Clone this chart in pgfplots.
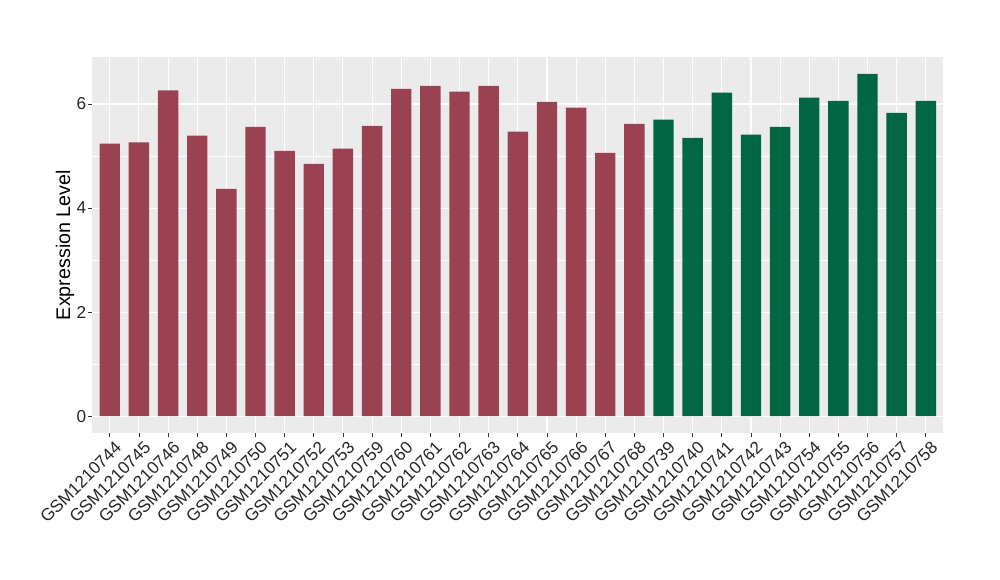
\documentclass[border=0pt]{standalone}
\usepackage{fontspec}
\setmainfont{Liberation Sans}
\usepackage{pgfplots}
\pgfplotsset{compat=1.18}
\definecolor{panel}{HTML}{EBEBEB}
\definecolor{barred}{HTML}{9A4252}
\definecolor{bargreen}{HTML}{006644}
\definecolor{ticktext}{HTML}{262626}
\definecolor{tickline}{HTML}{333333}
\begin{document}
\begin{tikzpicture}[x=1pt,y=1pt]
\useasboundingbox (0,0) rectangle (1000,580);
\begin{axis}[
  at={(92.3pt,146.7pt)}, anchor=south west,
  width=851pt, height=376.6pt, scale only axis,
  xmin=-0.6, xmax=28.6, ymin=-0.329, ymax=6.909,
  axis line style={draw=none},
  axis background/.style={fill=panel},
  xtick={0,...,28},
  xticklabels={GSM1210744,GSM1210745,GSM1210746,GSM1210748,GSM1210749,GSM1210750,GSM1210751,GSM1210752,GSM1210753,GSM1210759,GSM1210760,GSM1210761,GSM1210762,GSM1210763,GSM1210764,GSM1210765,GSM1210766,GSM1210767,GSM1210768,GSM1210739,GSM1210740,GSM1210741,GSM1210742,GSM1210743,GSM1210754,GSM1210755,GSM1210756,GSM1210757,GSM1210758},
  ytick={0,2,4,6},
  minor ytick={1,3,5},
  grid=both,
  major grid style={white, line width=1.1pt},
  minor grid style={white, line width=0.5pt},
  tick align=outside,
  major tick length=4pt,
  minor tick length=0pt,
  tick style={tickline, line width=0.8pt},
  xtick pos=bottom, ytick pos=left,
  /pgf/number format/assume math mode=true,
  every tick label/.append style={font=\fontsize{17.2}{19}\selectfont, text=ticktext},
  xticklabel style={rotate=45, anchor=north east, inner sep=1pt, xshift=2pt, yshift=-4pt},
  yticklabel style={inner sep=2pt},
]
\addplot[ybar, bar width=0.7, bar shift=0pt, fill=barred, draw=none] coordinates {
(0,5.24) (1,5.26) (2,6.26) (3,5.39) (4,4.37) (5,5.56) (6,5.10) (7,4.85) (8,5.14) (9,5.58)
(10,6.29) (11,6.35) (12,6.24) (13,6.35) (14,5.47) (15,6.04) (16,5.93) (17,5.06) (18,5.62)
};
\addplot[ybar, bar width=0.7, bar shift=0pt, fill=bargreen, draw=none] coordinates {
(19,5.70) (20,5.35) (21,6.22) (22,5.41) (23,5.56) (24,6.12) (25,6.06) (26,6.58) (27,5.83) (28,6.06)
};
\end{axis}
\node[rotate=90, font=\fontsize{19.7}{22}\selectfont] at (65,335) {Expression Level};
\end{tikzpicture}
\end{document}
